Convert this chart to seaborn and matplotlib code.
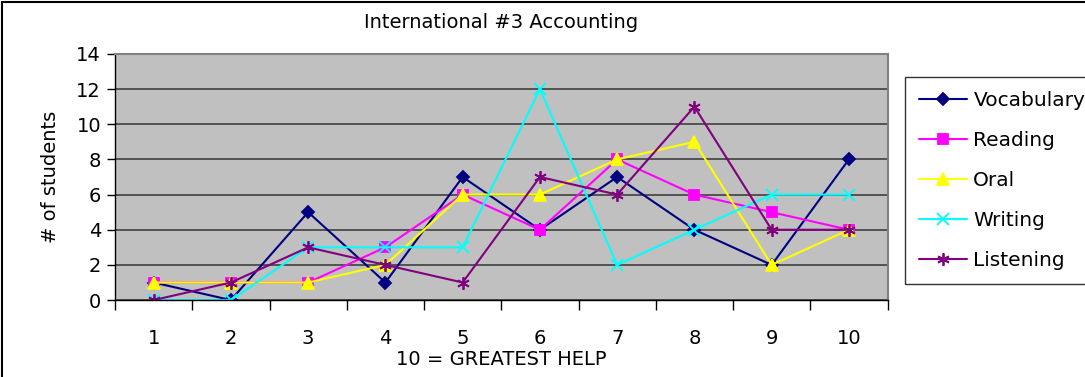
import pandas as pd
import matplotlib.pyplot as plt
import seaborn as sns
from matplotlib.patches import Rectangle

# data
ratings = [1, 2, 3, 4, 5, 6, 7, 8, 9, 10]
vocabulary = [1, 0, 5, 1, 7, 4, 7, 4, 2, 8]
reading = [1, 1, 1, 3, 6, 4, 8, 6, 5, 4]
oral = [1, 1, 1, 2, 6, 6, 8, 9, 2, 4]
writing = [0, 0, 3, 3, 3, 12, 2, 4, 6, 6]
listening = [0, 1, 3, 2, 1, 7, 6, 11, 4, 4]
series_names = ["Vocabulary", "Reading", "Oral", "Writing", "Listening"]
y_ticks = [0, 2, 4, 6, 8, 10, 12, 14]

series = dict(zip(series_names, [vocabulary, reading, oral, writing, listening]))

palette = {"Vocabulary": "#000080", "Reading": "#FF00FF", "Oral": "#FFFF00",
           "Writing": "#00FFFF", "Listening": "#800080"}
markers = {"Vocabulary": "D", "Reading": "s", "Oral": "^",
           "Writing": "x", "Listening": (6, 2, 0)}
msizes = {"Vocabulary": 6.5, "Reading": 7, "Oral": 8.5, "Writing": 8, "Listening": 9}

sns.set_theme(style="white")
plt.rcParams["font.family"] = ["DejaVu Sans"]
plt.rcParams["text.color"] = "black"
plt.rcParams["axes.labelcolor"] = "black"
plt.rcParams["xtick.color"] = "black"
plt.rcParams["ytick.color"] = "black"

fig = plt.figure(figsize=(10.85, 3.77), dpi=100)
ax = fig.add_axes([0.106, 0.204, 0.712, 0.653])
ax.set_facecolor("#C0C0C0")

# one call per series: filled and line-art markers can't share a style mapping
for name in series_names:
    d = pd.DataFrame({"rating": ratings, "students": series[name]})
    sns.lineplot(data=d, x="rating", y="students", color=palette[name],
                 marker=markers[name], markersize=msizes[name],
                 markeredgewidth=1.3, markeredgecolor=palette[name],
                 linewidth=1.5, label=name, ax=ax)

ax.set_xlim(0.5, 10.5)
ax.set_ylim(0, 14)
ax.set_yticks(y_ticks)
ax.set_xticks(ratings)
ax.set_xticks([x + 0.5 for x in range(0, 11)], minor=True)
ax.tick_params(axis="x", which="major", length=0, labelsize=14, pad=21)
ax.tick_params(axis="x", which="minor", length=7, width=1, color="black",
               direction="out", bottom=True)
ax.tick_params(axis="y", length=6, width=1, color="black", direction="out",
               left=True, labelsize=14, pad=4)
ax.yaxis.grid(True, color="#404040", linewidth=1.2)
ax.set_axisbelow(True)
for s in ["top", "right"]:
    ax.spines[s].set_color("#808080")
    ax.spines[s].set_linewidth(1.5)
for s in ["left", "bottom"]:
    ax.spines[s].set_color("black")
    ax.spines[s].set_linewidth(1)

ax.set_xlabel("10 = GREATEST HELP", fontsize=14, labelpad=1)
ax.set_ylabel("# of students", fontsize=14, labelpad=12)
ax.set_title("International #3 Accounting", fontsize=14, pad=19)

handles, labels = ax.get_legend_handles_labels()
leg = ax.legend(handles, labels, loc="upper left", bbox_to_anchor=(0.834, 0.797),
                bbox_transform=fig.transFigure, fontsize=14.5, frameon=True,
                fancybox=False, edgecolor="black", handlelength=2.4,
                handletextpad=0.3, labelspacing=1.05, borderpad=0.7,
                borderaxespad=0)
leg.get_frame().set_linewidth(1)

# outer chart border
fig.patches.append(Rectangle((0.002, -0.05), 1.1, 1.045, transform=fig.transFigure,
                             fill=False, edgecolor="black", linewidth=1.5))

fig.savefig("out.png", dpi=100)
